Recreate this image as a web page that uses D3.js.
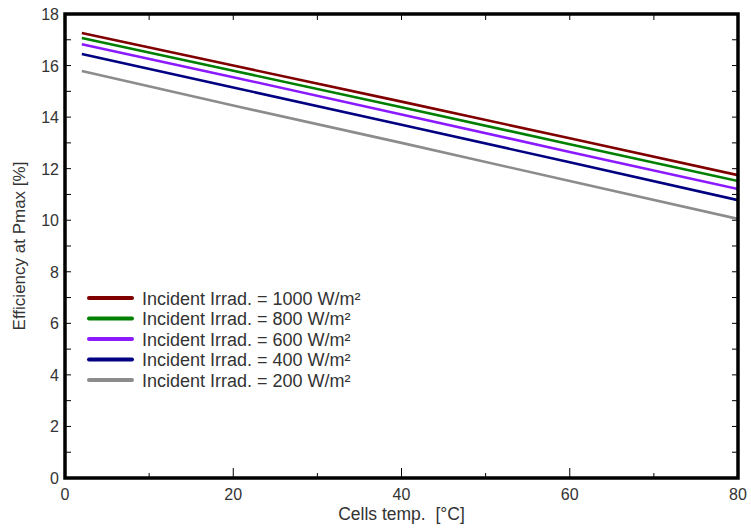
<!DOCTYPE html>
<html><head><meta charset="utf-8">
<script src="https://cdn.jsdelivr.net/npm/d3@7"></script>
<style>body{margin:0;background:#fff}svg{display:block}text{font-family:"Liberation Sans",Arial,sans-serif}</style>
</head><body><svg id="c" width="751" height="531"></svg>
<script>
const temps = [2, 20, 40, 60, 80];
const e1000 = [17.26, 16.0, 14.6, 13.18, 11.75];
const e800  = [17.07, 15.8, 14.38, 12.95, 11.52];
const e600  = [16.83, 15.55, 14.1, 12.65, 11.21];
const e400  = [16.45, 15.15, 13.7, 12.25, 10.78];
const e200  = [15.79, 14.45, 13.0, 11.52, 10.05];
const seriesNames = ["Incident Irrad. = 1000 W/m²","Incident Irrad. = 800 W/m²","Incident Irrad. = 600 W/m²","Incident Irrad. = 400 W/m²","Incident Irrad. = 200 W/m²"];
const seriesValues = [e1000, e800, e600, e400, e200];
const colors = ["#800000","#008000","#8c1aff","#000080","#8c8c8c"];
const xTickLabels = [0,20,40,60,80];
const yTickLabels = [0,2,4,6,8,10,12,14,16,18];

const svg = d3.select("#c");
const L=65, R=738, T=14, B=478;
const x = d3.scaleLinear().domain([0,80]).range([L,R]);
const y = d3.scaleLinear().domain([0,18]).range([B,T]);
const txt = "#333";

const g = svg.append("g");
d3.range(0,81,10).forEach(v=>{
  const major = v%20===0;
  g.append("line").attr("x1",x(v)).attr("x2",x(v)).attr("y1",B).attr("y2",B-(major?10:5)).attr("stroke","#000").attr("stroke-width",1);
  g.append("line").attr("x1",x(v)).attr("x2",x(v)).attr("y1",T).attr("y2",T+6).attr("stroke","#000").attr("stroke-width",1);
});
d3.range(0,19,1).forEach(v=>{
  g.append("line").attr("x1",L).attr("x2",L+6).attr("y1",y(v)).attr("y2",y(v)).attr("stroke","#000").attr("stroke-width",1);
  g.append("line").attr("x1",R).attr("x2",R-6).attr("y1",y(v)).attr("y2",y(v)).attr("stroke","#000").attr("stroke-width",1);
});
xTickLabels.forEach(v=>{
  svg.append("text").attr("x",x(v)).attr("y",B+22).attr("text-anchor","middle").attr("font-size",16).attr("fill",txt).text(v);
});
yTickLabels.forEach(v=>{
  svg.append("text").attr("x",L-6).attr("y",y(v)+6).attr("text-anchor","end").attr("font-size",16).attr("fill",txt).text(v);
});
svg.append("text").attr("x",(L+R)/2).attr("y",520).attr("text-anchor","middle").attr("font-size",17.5).attr("fill",txt).style("white-space","pre").text("Cells temp.  [°C]");
svg.append("text").attr("transform",`translate(25,${(T+B)/2}) rotate(-90)`).attr("text-anchor","middle").attr("font-size",17).attr("fill",txt).text("Efficiency at Pmax [%]");

const line = d3.line().x((d,i)=>x(temps[i])).y(d=>y(d));
svg.append("clipPath").attr("id","cp").append("rect").attr("x",L).attr("y",T).attr("width",R-L).attr("height",B-T);
seriesValues.forEach((vals,i)=>{
  svg.append("path").attr("d",line(vals)).attr("fill","none").attr("stroke",colors[i]).attr("stroke-width",2.6).attr("clip-path","url(#cp)");
});

svg.append("rect").attr("x",L).attr("y",T).attr("width",R-L).attr("height",B-T).attr("fill","none").attr("stroke","#000").attr("stroke-width",3.5);

seriesNames.forEach((n,i)=>{
  const yy = 298 + i*20.5;
  svg.append("line").attr("x1",89).attr("x2",132).attr("y1",yy).attr("y2",yy).attr("stroke",colors[i]).attr("stroke-width",4).attr("stroke-linecap","round");
  svg.append("text").attr("x",142).attr("y",yy+6.5).attr("font-size",18).attr("fill",txt).text(n);
});
</script></body></html>
